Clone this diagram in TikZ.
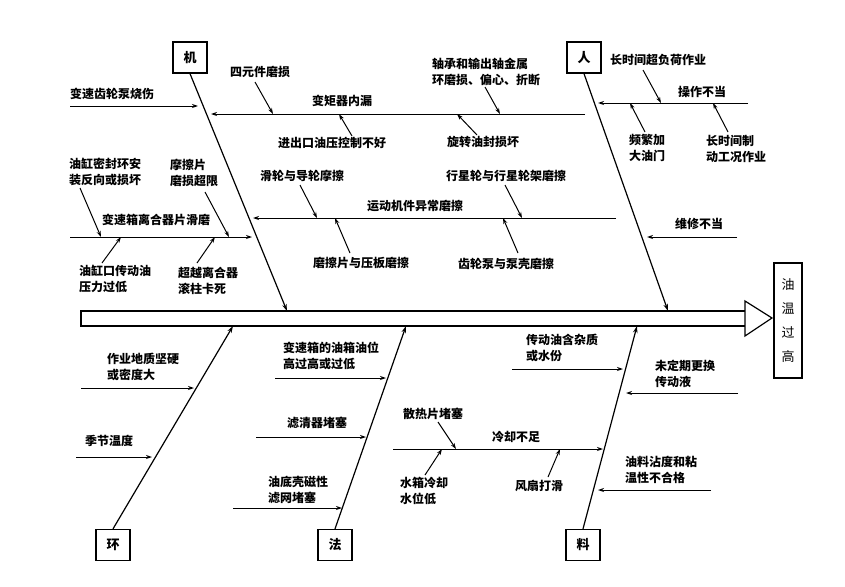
\documentclass[tikz,border=0pt]{standalone}
\usepackage{fontspec}
\newfontfamily\cjk{Noto Sans CJK SC}
\usetikzlibrary{arrows.meta}
\begin{document}
\begin{tikzpicture}[x=1pt,y=-1pt,
  lbl/.style={font=\cjk\bfseries\fontsize{12}{16}\selectfont, inner sep=0pt, align=left, anchor=west},
  bx/.style={draw, line width=1.3pt, minimum width=34pt, minimum height=31pt, inner sep=0pt, font=\cjk\bfseries\fontsize{13}{15}\selectfont},
  bone/.style={line width=1.2pt, -{Stealth[length=7pt,width=4.5pt]}},
  arr/.style={line width=1pt, -{Stealth[length=6pt,width=4pt]}},
  spine/.style={line width=1.2pt}]
\useasboundingbox (0,0) rectangle (845,586);

% ---------- spine and head ----------
\coordinate (s1) at (81,311); \coordinate (s2) at (745,311);
\coordinate (s3) at (745,326); \coordinate (s4) at (81,326);
\coordinate (h1) at (745,301); \coordinate (h2) at (772,318); \coordinate (h3) at (745,336);
\draw[spine] (s2) -- (s1) -- (s4) -- (s3);
\draw[spine] (h1) -- (h2) -- (h3) -- cycle;
\node[draw, line width=1.3pt, minimum width=28pt, minimum height=115pt, inner sep=0pt,
      font=\cjk\fontsize{13}{24}\selectfont, align=center] (eff) at (788,320.5) {油\\温\\过\\高};

% ---------- category boxes ----------
\node[bx] (ji)  at (190,57.5) {机};
\node[bx] (ren) at (584,57.5) {人};
\node[bx] (huan) at (113,545) {环};
\node[bx] (fa)  at (335,545) {法};
\node[bx] (liao) at (583,545) {料};

\coordinate (jiT) at (287,311);
\coordinate (renT) at (668,311);
\coordinate (huanT) at (233,326);
\coordinate (faT) at (406,326);
\coordinate (liaoT) at (637,326);
\draw[bone] (ji.south) -- (jiT);
\draw[bone] (ren.south) -- (renT);
\draw[bone] (huan.north) -- (huanT);
\draw[bone] (fa.north) -- (faT);
\draw[bone] (liao.north) -- (liaoT);

% ---------- labels ----------
\node[lbl] (t1)  at (70,94)  {变速齿轮泵烧伤};
\node[lbl] (t2)  at (230,72) {四元件磨损};
\node[lbl] (t3)  at (312,101) {变矩器内漏};
\node[lbl] (t4)  at (278,143) {进出口油压控制不好};
\node[lbl] (t5)  at (432,72) {轴承和输出轴金属\\环磨损、偏心、折断};
\node[lbl] (t6)  at (447,142) {旋转油封损坏};
\node[lbl] (t7)  at (69,172) {油缸密封环安\\装反向或损坏};
\node[lbl] (t8)  at (170,173) {摩擦片\\磨损超限};
\node[lbl] (t9)  at (102,220) {变速箱离合器片滑磨};
\node[lbl] (t10) at (260,176) {滑轮与导轮摩擦};
\node[lbl] (t11) at (367,206) {运动机件异常磨擦};
\node[lbl] (t12) at (446,176) {行星轮与行星轮架磨擦};
\node[lbl] (t13) at (313,263) {磨擦片与压板磨擦};
\node[lbl] (t14) at (458,264) {齿轮泵与泵壳磨擦};
\node[lbl] (t15) at (79,279) {油缸口传动油\\压力过低};
\node[lbl] (t16) at (178,281) {超越离合器\\滚柱卡死};
\node[lbl] (t17) at (610,60) {长时间超负荷作业};
\node[lbl] (t18) at (678,92) {操作不当};
\node[lbl] (t19) at (629,148) {频繁加\\大油门};
\node[lbl] (t20) at (706,149) {长时间制\\动工况作业};
\node[lbl] (t21) at (675,224) {维修不当};
\node[lbl] (t22) at (107,367) {作业地质坚硬\\或密度大};
\node[lbl] (t23) at (85,441) {季节温度};
\node[lbl] (t24) at (283,356) {变速箱的油箱油位\\高过高或过低};
\node[lbl] (t25) at (287,423) {滤清器堵塞};
\node[lbl] (t26) at (268,490) {油底壳磁性\\滤网堵塞};
\node[lbl] (t27) at (526,348) {传动油含杂质\\或水份};
\node[lbl] (t28) at (655,374) {未定期更换\\传动液};
\node[lbl] (t29) at (492,437) {冷却不足};
\node[lbl] (t30) at (403,414) {散热片堵塞};
\node[lbl] (t31) at (400,491) {水箱冷却\\水位低};
\node[lbl] (t32) at (515,486) {风扇打滑};
\node[lbl] (t33) at (625,470) {油料沾度和粘\\温性不合格};

% ---------- horizontal branch lines ----------
\coordinate (b1a) at (70,106);  \coordinate (b1b) at (198,106);
\coordinate (b3a) at (585,114); \coordinate (b3b) at (211,114);
\coordinate (b11a) at (616,218); \coordinate (b11b) at (253,218);
\coordinate (b9a) at (70,237);  \coordinate (b9b) at (252,237);
\coordinate (b18a) at (748,103); \coordinate (b18b) at (598,103);
\coordinate (b21a) at (737,237); \coordinate (b21b) at (647,237);
\coordinate (b22a) at (81,388);  \coordinate (b22b) at (194,388);
\coordinate (b23a) at (76,457);  \coordinate (b23b) at (152,457);
\coordinate (b24a) at (275,378); \coordinate (b24b) at (386,378);
\coordinate (b25a) at (256,437); \coordinate (b25b) at (366,437);
\coordinate (b26a) at (233,508); \coordinate (b26b) at (342,508);
\coordinate (b27a) at (512,369); \coordinate (b27b) at (623,369);
\coordinate (b28a) at (738,393); \coordinate (b28b) at (626,393);
\coordinate (b29a) at (393,449); \coordinate (b29b) at (603,449);
\coordinate (b33a) at (711,490); \coordinate (b33b) at (598,490);
\foreach \n in {1,3,11,9,18,21,22,23,24,25,26,27,28,29,33}
  \draw[arr] (b\n a) -- (b\n b);

% ---------- small diagonal arrows ----------
\coordinate (d2a) at (255,82);   \coordinate (d2b) at (273,114);
\coordinate (d4a) at (352,136);  \coordinate (d4b) at (339,114);
\coordinate (d5a) at (485,87);   \coordinate (d5b) at (500,114);
\coordinate (d6a) at (477,135);  \coordinate (d6b) at (457,114);
\coordinate (d10a) at (300,185); \coordinate (d10b) at (317,218);
\coordinate (d12a) at (505,185); \coordinate (d12b) at (522,218);
\coordinate (d13a) at (350,253); \coordinate (d13b) at (335,218);
\coordinate (d14a) at (518,253); \coordinate (d14b) at (503,218);
\coordinate (d7a) at (80,188);   \coordinate (d7b) at (101,237);
\coordinate (d8a) at (205,192);  \coordinate (d8b) at (229,237);
\coordinate (d15a) at (102,263); \coordinate (d15b) at (121,237);
\coordinate (d16a) at (197,263); \coordinate (d16b) at (215,237);
\coordinate (d17a) at (643,70);  \coordinate (d17b) at (661,103);
\coordinate (d19a) at (645,132); \coordinate (d19b) at (630,103);
\coordinate (d20a) at (728,132); \coordinate (d20b) at (713,103);
\coordinate (d30a) at (438,422); \coordinate (d30b) at (456,449);
\coordinate (d31a) at (425,475); \coordinate (d31b) at (442,449);
\coordinate (d32a) at (548,477); \coordinate (d32b) at (560,449);
\foreach \n in {2,4,5,6,10,12,13,14,7,8,15,16,17,19,20,30,31,32}
  \draw[arr] (d\n a) -- (d\n b);
\end{tikzpicture}
\end{document}
